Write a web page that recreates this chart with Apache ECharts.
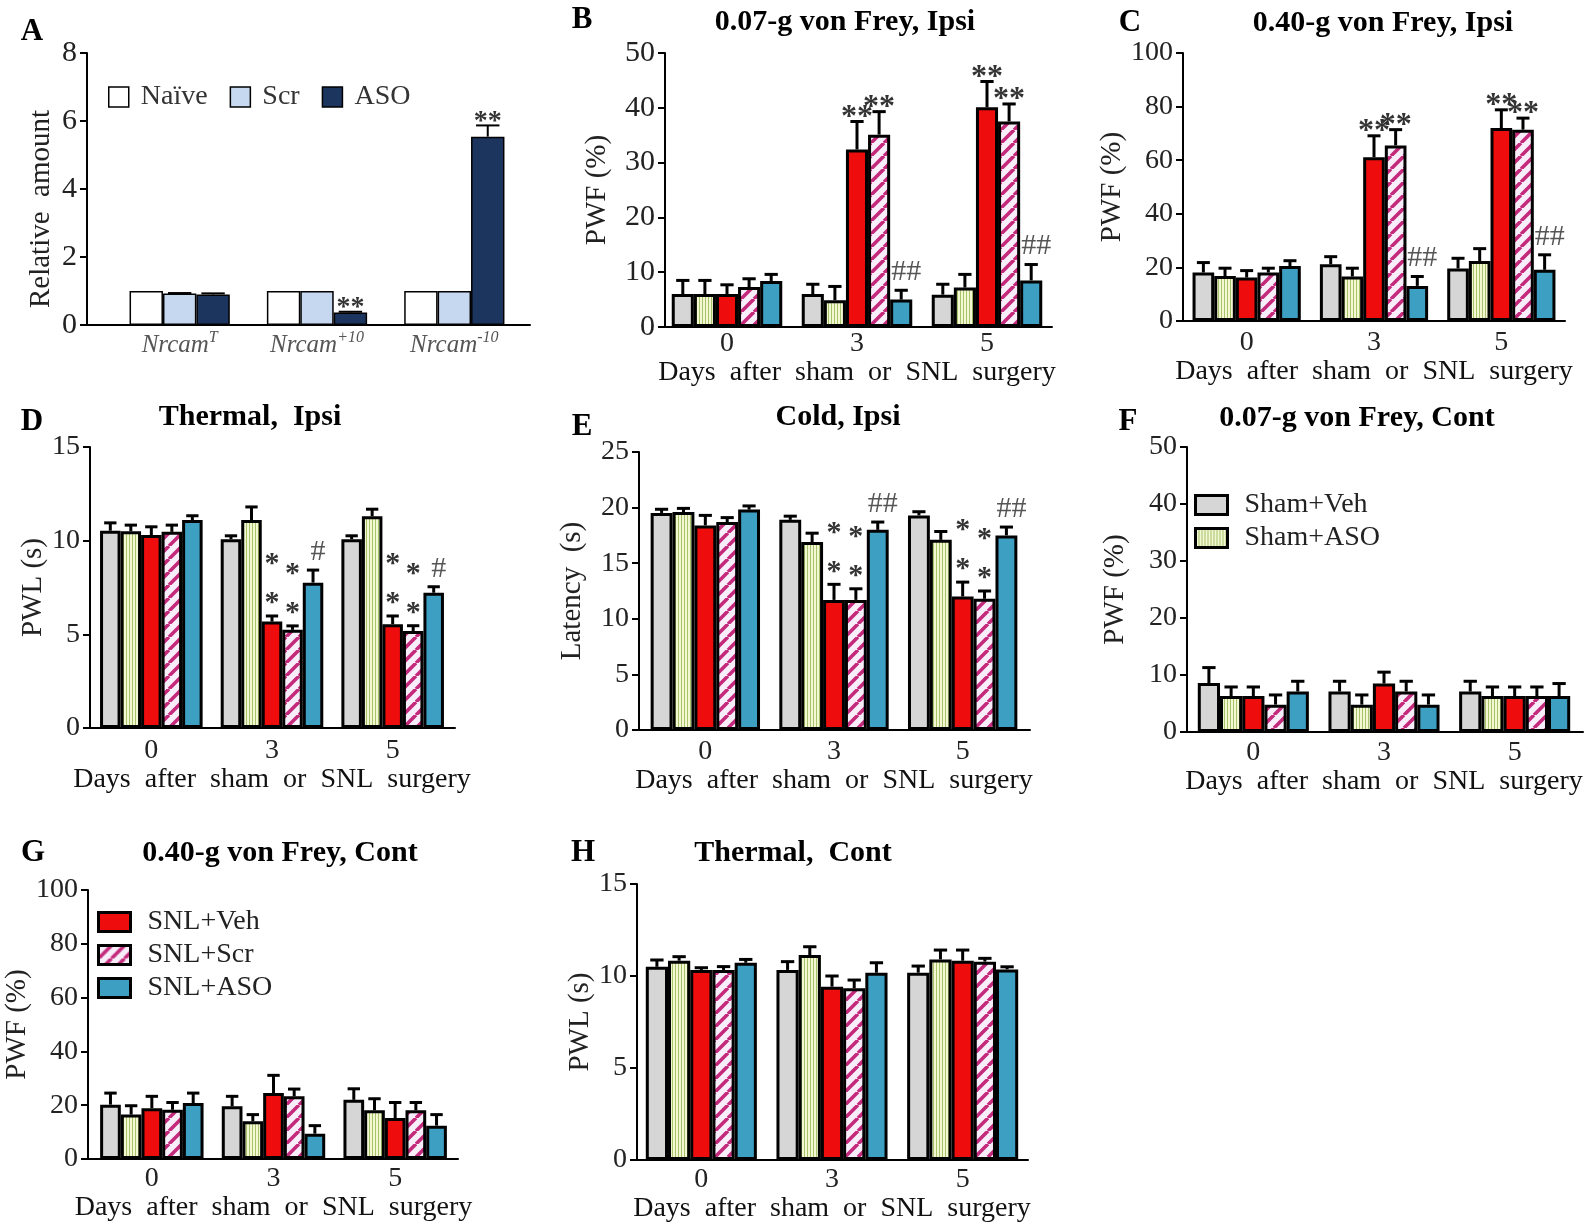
<!DOCTYPE html>
<html>
<head>
<meta charset="utf-8">
<title>Nrcam ASO – pain behaviour panels</title>
<script src="https://cdn.jsdelivr.net/npm/echarts@6.0.0/dist/echarts.min.js"></script>
<style>
  html, body { margin: 0; padding: 0; background: #fff; }
  #chart { width: 1590px; height: 1232px; }
</style>
</head>
<body>
<div id="chart"></div>
<script>
const SERIF = "'Liberation Serif', 'Times New Roman', serif";

// ---------- data ----------
const days = ['0', '3', '5'];
const treatments = ['Sham+Veh', 'Sham+ASO', 'SNL+Veh', 'SNL+Scr', 'SNL+ASO'];

// A: relative amount of Nrcam transcripts (rows = groups, cols = transcripts)
const aGenes = ['T', '+10', '-10'];
const aGroups = ['Naïve', 'Scr', 'ASO'];
const aMean = [[1, 1, 1], [0.93, 1, 1], [0.9, 0.37, 5.54]];
const aSem = [[0, 0, 0], [0.01, 0, 0], [0.03, 0.02, 0.33]];
const aSig = [['', '', ''], ['', '', ''], ['', '**', '**']];

// B..H: rows = treatments, cols = days
const bMean = [[6, 6, 5.9], [6, 4.9, 7.2], [6, 32.4, 40.1], [7.3, 35.1, 37.5], [8.4, 5, 8.5]];
const bSem = [[2.5, 1.8, 1.9], [2.5, 2.5, 2.4], [1.7, 5.1, 4.7], [1.5, 4.2, 3.2], [1.2, 1.7, 2.9]];
const bSig = [['', '', ''], ['', '', ''], ['', '**', '**'], ['', '**', '**'], ['', '##', '##']];

const cMean = [[18.1, 21.2, 19.6], [16.8, 16.6, 22.4], [16.2, 61.1, 72], [18.1, 65.5, 71.4], [20.5, 13.1, 19.1]];
const cSem = [[3.7, 2.8, 3.8], [2.9, 3.1, 4.6], [2.6, 8, 6.8], [1.6, 5.9, 4.3], [2, 3.5, 5.6]];
const cSig = [['', '', ''], ['', '', ''], ['', '**', '**'], ['', '**', '**'], ['', '##', '##']];

const dMean = [[10.53, 10.08, 10.08], [10.5, 11.1, 11.3], [10.3, 5.68, 5.54], [10.47, 5.24, 5.18], [11.1, 7.76, 7.22]];
const dSem = [[0.42, 0.18, 0.18], [0.33, 0.7, 0.38], [0.44, 0.3, 0.44], [0.36, 0.21, 0.28], [0.23, 0.67, 0.32]];
const dSig = [['', '', ''], ['', '', ''], ['', '**', '**'], ['', '**', '**'], ['', '#', '#']];

const eMean = [[19.52, 18.9, 19.3], [19.6, 16.9, 17.1], [18.4, 11.7, 12], [18.7, 11.7, 11.8], [19.82, 18, 17.5]];
const eSem = [[0.33, 0.33, 0.33], [0.33, 0.8, 0.75], [0.9, 1.4, 1.3], [0.4, 1, 0.7], [0.33, 0.7, 0.75]];
const eSig = [['', '', ''], ['', '', ''], ['', '**', '**'], ['', '**', '**'], ['', '##', '##']];

const fMean = [[8.6, 7.1, 7.1], [6.3, 4.8, 6.3], [6.3, 8.5, 6.3], [4.8, 7.1, 6.3], [7.1, 4.8, 6.3]];
const fSem = [[2.7, 1.8, 1.8], [1.6, 1.7, 1.6], [1.6, 2, 1.6], [1.7, 1.8, 1.6], [1.8, 1.7, 2.2]];

const gMean = [[20.2, 19.6, 22], [16.5, 14, 18.1], [18.9, 24.5, 15.2], [18.3, 23.3, 18.1], [20.8, 9.4, 12.4]];
const gSem = [[4.3, 3.7, 4.1], [3.3, 2.5, 4.3], [4.4, 6.6, 5.8], [2.7, 2.7, 2.9], [3.7, 3, 4.1]];

const hMean = [[10.5, 10.33, 10.18], [10.83, 11.14, 10.9], [10.33, 9.42, 10.83], [10.33, 9.33, 10.78], [10.72, 10.18, 10.36]];
const hSem = [[0.37, 0.45, 0.36], [0.22, 0.45, 0.51], [0.12, 0.58, 0.58], [0.18, 0.45, 0.18], [0.18, 0.54, 0.14]];

const noSig = [['', '', ''], ['', '', ''], ['', '', ''], ['', '', ''], ['', '', '']];

// ---------- fills ----------
// small canvas tiles used as repeating bar fills
function stripes(kind, bg, fg) {
  const c = document.createElement('canvas');
  const ctx = c.getContext('2d');
  if (kind === 'vertical') {
    c.width = 3; c.height = 4;
    ctx.fillStyle = bg; ctx.fillRect(0, 0, 3, 4);
    ctx.fillStyle = fg; ctx.fillRect(0, 0, 1, 4);
  } else {
    const s = 13;
    c.width = s; c.height = s;
    ctx.fillStyle = bg; ctx.fillRect(0, 0, s, s);
    ctx.strokeStyle = fg; ctx.lineWidth = 3.6;
    ctx.beginPath();
    [-s, 0, s].forEach(function (o) { ctx.moveTo(o, s); ctx.lineTo(o + s, 0); });
    ctx.stroke();
  }
  return { image: c, repeat: 'repeat' };
}

const aStyles = [{ color: '#ffffff' }, { color: '#c6d8ef' }, { color: '#1c355e' }];
const tStyles = [
  { color: '#d6d6d6' },
  { color: stripes('vertical', '#f3f7d2', '#a6c26a') },
  { color: '#ee0c0c' },
  { color: stripes('diagonal', '#f8eefa', '#c42a7b') },
  { color: '#3d9fc2' }
];

// axis frame (axisX..axisRight, top..base) and the band area holding the bars
const layout = {
  A: { axisX: 87, axisRight: 530, top: 53, base: 325, dataLeft: 111, dataRight: 523, gap: 0.27, nameGap: 31, namePad: [0, 40, 0, 0], tick: 30, letter: [32, 32] },
  B: { axisX: 665, axisRight: 1052, top: 53, base: 327, dataLeft: 662, dataRight: 1052, gap: 0.15, nameGap: 53, tick: 30, lblGap: 3, xNameGap: 31, letter: [582, 20], title: [845, 22] },
  C: { axisX: 1183, axisRight: 1565, top: 53, base: 321, dataLeft: 1183, dataRight: 1565, gap: 0.15, nameGap: 53, tick: 28, lblGap: 8, xNameGap: 37, letter: [1130, 23], title: [1383, 23] },
  D: { axisX: 90, axisRight: 455, top: 447, base: 728, dataLeft: 91, dataRight: 453, gap: 0.15, nameGap: 40, tick: 28, lblGap: 9, xNameGap: 38, letter: [32, 422], title: [250, 417] },
  E: { axisX: 639, axisRight: 1030, top: 452, base: 730, dataLeft: 641, dataRight: 1027, gap: 0.15, nameGap: 52, tick: 28, lblGap: 8, xNameGap: 36, letter: [582, 427], title: [838, 417] },
  F: { axisX: 1187, axisRight: 1583, top: 447, base: 732, dataLeft: 1188, dataRight: 1580, gap: 0.15, nameGap: 57, tick: 28, lblGap: 7, xNameGap: 32, letter: [1128, 422], title: [1357, 418] },
  G: { axisX: 88, axisRight: 458, top: 890, base: 1159, dataLeft: 91, dataRight: 456, gap: 0.15, nameGap: 41, tick: 28, lblGap: 6, xNameGap: 34, letter: [33, 853], title: [280, 853] },
  H: { axisX: 637, axisRight: 1028, top: 884, base: 1160, dataLeft: 636, dataRight: 1028, gap: 0.15, nameGap: 42, tick: 28, lblGap: 6, xNameGap: 34, letter: [583, 853], title: [793, 853] }
};

const xTitle = 'Days  after  sham  or  SNL  surgery';
const panels = [
  { id: 'A', cats: aGenes, names: aGroups, styles: aStyles, mean: aMean, sem: aSem, sig: aSig, max: 8, step: 2, yName: 'Relative  amount', border: 1.5, gene: true },
  { id: 'B', title: '0.07-g von Frey, Ipsi', cats: days, names: treatments, styles: tStyles, mean: bMean, sem: bSem, sig: bSig, max: 50, step: 10, yName: 'PWF (%)' },
  { id: 'C', title: '0.40-g von Frey, Ipsi', cats: days, names: treatments, styles: tStyles, mean: cMean, sem: cSem, sig: cSig, max: 100, step: 20, yName: 'PWF (%)' },
  { id: 'D', title: 'Thermal,  Ipsi', cats: days, names: treatments, styles: tStyles, mean: dMean, sem: dSem, sig: dSig, max: 15, step: 5, yName: 'PWL (s)', stacked: true },
  { id: 'E', title: 'Cold, Ipsi', cats: days, names: treatments, styles: tStyles, mean: eMean, sem: eSem, sig: eSig, max: 25, step: 5, yName: 'Latency  (s)', stacked: true },
  { id: 'F', title: '0.07-g von Frey, Cont', cats: days, names: treatments, styles: tStyles, mean: fMean, sem: fSem, sig: noSig, max: 50, step: 10, yName: 'PWF (%)' },
  { id: 'G', title: '0.40-g von Frey, Cont', cats: days, names: treatments, styles: tStyles, mean: gMean, sem: gSem, sig: noSig, max: 100, step: 20, yName: 'PWF (%)' },
  { id: 'H', title: 'Thermal,  Cont', cats: days, names: treatments, styles: tStyles, mean: hMean, sem: hSem, sig: noSig, max: 15, step: 5, yName: 'PWL (s)' }
];

// error bars + significance marks, placed on the bar of treatment k
function errRenderer(p, L, items) {
  const n = p.names.length;
  const lw = p.gene ? 2 : 3;
  const capFrac = p.gene ? 0.7 : 0.6;
  return function (params, api) {
    const it = items[params.dataIndex];
    const d = api.value(0), mean = api.value(1), sem = api.value(2), k = api.value(3);
    const band = api.size([1, 0])[0];
    const bw = band * (1 - L.gap) / n;
    const cx = api.coord([d, 0])[0] + (k - (n - 1) / 2) * bw;
    const yTop = api.coord([d, mean])[1];
    const yHi = api.coord([d, mean + sem])[1];
    const cap = bw * capFrac / 2;
    const children = [];
    if (sem > 0) {
      children.push({ type: 'line', shape: { x1: cx, y1: yTop, x2: cx, y2: yHi }, style: { stroke: '#000', lineWidth: lw } });
      children.push({ type: 'line', shape: { x1: cx - cap, y1: yHi, x2: cx + cap, y2: yHi }, style: { stroke: '#000', lineWidth: lw } });
    }
    if (it.sig) {
      const hash = it.sig.indexOf('#') >= 0;
      let text = it.sig, y, font, fill, x = cx, lineHeight;
      if (hash) {
        x = cx + 5; y = yHi - 18; font = '30px ' + SERIF; fill = '#555';
      } else if (p.stacked) {
        text = it.sig.split('').join('\n'); y = yHi - 32; lineHeight = 39; font = 'bold 30px ' + SERIF; fill = '#333';
      } else {
        y = yHi - 4; font = 'bold ' + (p.gene ? 28 : 32) + 'px ' + SERIF; fill = '#333';
      }
      children.push({
        type: 'text', x: x, y: y,
        style: { text: text, font: font, fill: fill, lineHeight: lineHeight, align: 'center', verticalAlign: 'middle', textAlign: 'center', textVerticalAlign: 'middle' }
      });
    }
    return { type: 'group', children: children };
  };
}

const option = {
  animation: false,
  backgroundColor: '#fff',
  grid: [], xAxis: [], yAxis: [], series: [], graphic: [],
  legend: [
    { data: aGroups, left: 108, top: 83, padding: 0, itemWidth: 20, itemHeight: 20, itemGap: 22, icon: 'rect', selectedMode: false,
      itemStyle: { borderWidth: 1.5, borderColor: '#000' },
      textStyle: { fontFamily: SERIF, fontSize: 28, color: '#333', padding: [0, 0, 0, 7] } },
    { data: treatments.slice(0, 2), orient: 'vertical', left: 1194, top: 490, padding: 0, itemWidth: 32, itemHeight: 19, itemGap: 3, icon: 'rect', selectedMode: false,
      itemStyle: { borderWidth: 3, borderColor: '#000' },
      textStyle: { fontFamily: SERIF, fontSize: 28, color: '#222', lineHeight: 30, padding: [0, 0, 0, 12] } },
    { data: treatments.slice(2), orient: 'vertical', left: 97, top: 907, padding: 0, itemWidth: 32, itemHeight: 19, itemGap: 3, icon: 'rect', selectedMode: false,
      itemStyle: { borderWidth: 3, borderColor: '#000' },
      textStyle: { fontFamily: SERIF, fontSize: 28, color: '#222', lineHeight: 30, padding: [0, 0, 0, 12] } }
  ]
};

panels.forEach(function (p) {
  const L = layout[p.id];
  // frame: axis lines, y ticks and y name
  const fi = option.grid.length;
  option.grid.push({ left: L.axisX, top: L.top, width: L.axisRight - L.axisX, height: L.base - L.top });
  option.xAxis.push({
    gridIndex: fi, type: 'value', min: 0, max: 1,
    axisLine: { show: true, lineStyle: { color: '#000', width: 2 } },
    axisTick: { show: false }, axisLabel: { show: false }, splitLine: { show: false }
  });
  option.yAxis.push({
    gridIndex: fi, type: 'value', min: 0, max: p.max, interval: p.step,
    axisLine: { show: true, lineStyle: { color: '#000', width: 2 } },
    axisTick: { show: true, length: 7, lineStyle: { color: '#000', width: 2 } },
    axisLabel: { fontFamily: SERIF, fontSize: L.tick, color: '#222', margin: 10 },
    splitLine: { show: false },
    name: p.yName, nameLocation: 'middle', nameGap: L.nameGap,
    nameTextStyle: { fontFamily: SERIF, fontSize: 29, color: '#222', padding: L.namePad || 0 }
  });
  // bars
  const di = option.grid.length;
  option.grid.push({ left: L.dataLeft, top: L.top, width: L.dataRight - L.dataLeft, height: L.base - L.top });
  const xCat = {
    gridIndex: di, type: 'category', data: p.cats,
    axisLine: { show: false }, axisTick: { show: false }, splitLine: { show: false }
  };
  if (p.gene) {
    xCat.axisLabel = {
      margin: 5,
      formatter: function (v) { return '{i|Nrcam}{s|' + v + '}'; },
      rich: {
        i: { fontFamily: SERIF, fontStyle: 'italic', fontSize: 25, color: '#555', lineHeight: 30 },
        s: { fontFamily: SERIF, fontStyle: 'italic', fontSize: 16, color: '#555', lineHeight: 16, verticalAlign: 'top' }
      }
    };
  } else {
    xCat.axisLabel = { fontFamily: SERIF, fontSize: 28, color: '#222', margin: L.lblGap };
    xCat.name = xTitle;
    xCat.nameLocation = 'middle';
    xCat.nameGap = L.xNameGap;
    xCat.nameTextStyle = { fontFamily: SERIF, fontSize: 28, color: '#111' };
  }
  option.xAxis.push(xCat);
  option.yAxis.push({ gridIndex: di, type: 'value', min: 0, max: p.max, show: false });

  p.names.forEach(function (name, k) {
    option.series.push({
      type: 'bar', name: name, xAxisIndex: di, yAxisIndex: di, data: p.mean[k],
      barGap: '0%', barCategoryGap: Math.round(L.gap * 100) + '%', silent: true,
      itemStyle: Object.assign({ borderColor: '#000', borderWidth: p.border || 3 }, p.styles[k])
    });
  });
  const items = [];
  p.names.forEach(function (name, k) {
    p.cats.forEach(function (c, d) {
      items.push({ value: [d, p.mean[k][d], p.sem[k][d], k], sig: p.sig[k][d] });
    });
  });
  option.series.push({
    type: 'custom', xAxisIndex: di, yAxisIndex: di, z: 5, silent: true,
    data: items.map(function (it) { return it.value; }),
    renderItem: errRenderer(p, L, items)
  });

  // panel letter and title
  option.graphic.push({
    type: 'text', x: L.letter[0], y: L.letter[1],
    style: { text: p.id, font: 'bold 31px ' + SERIF, fill: '#000', align: 'center', verticalAlign: 'middle', textAlign: 'center', textVerticalAlign: 'middle' }
  });
  if (p.title) {
    option.graphic.push({
      type: 'text', x: L.title[0], y: L.title[1],
      style: { text: p.title, font: 'bold 30px ' + SERIF, fill: '#000', align: 'center', verticalAlign: 'middle', textAlign: 'center', textVerticalAlign: 'middle' }
    });
  }
});

const chart = echarts.init(document.getElementById('chart'));
chart.setOption(option);
</script>
</body>
</html>
